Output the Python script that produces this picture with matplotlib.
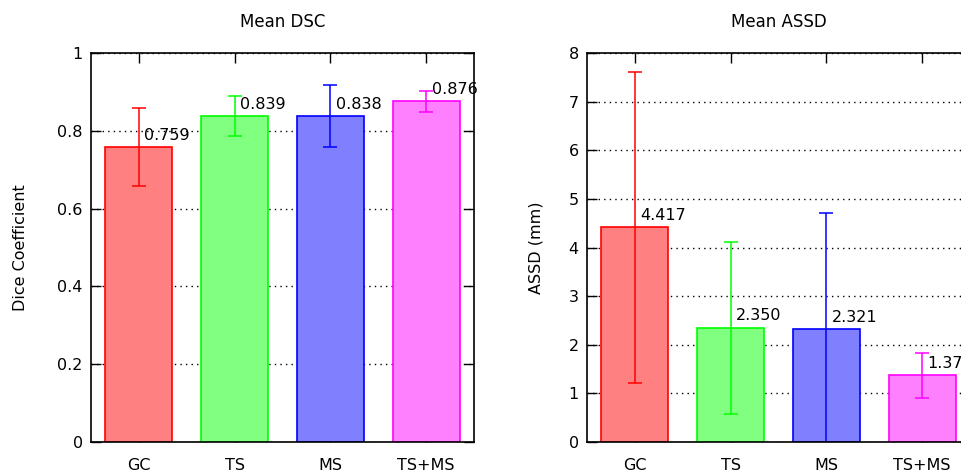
import matplotlib
matplotlib.use('Agg')
import matplotlib.pyplot as plt

# methods on the x axis
methods = ['GC', 'TS', 'MS', 'TS+MS']

# mean DSC and its spread
dsc_mean = [0.759, 0.839, 0.838, 0.876]
dsc_err = [0.101, 0.051, 0.080, 0.027]

# mean ASSD (mm) and its spread
assd_mean = [4.417, 2.350, 2.321, 1.370]
assd_err = [3.20, 1.77, 2.40, 0.46]

edge_colors = ['#ff0000', '#00ff00', '#0000ff', '#ff00ff']
fill_colors = ['#ff8080', '#80ff80', '#8080ff', '#ff80ff']

plt.rcParams['font.family'] = ['DejaVu Sans']
plt.rcParams['font.size'] = 11


def draw_panel(ax, values, errs, title, ylabel, ymax, yticks, lpad):
    x = list(range(len(methods)))
    ax.bar(x, values, width=0.7, color=fill_colors, edgecolor=edge_colors,
           linewidth=1.2, zorder=2)
    for i in x:
        ax.errorbar(i, values[i], yerr=errs[i], color=edge_colors[i],
                    capsize=5, elinewidth=1.1, capthick=1.1, zorder=3)
        # value label, right of the error bar; the last one runs off the page
        ax.annotate('%.3f' % values[i], (i, values[i]), xytext=(4, 3),
                    textcoords='offset points', ha='left', va='bottom',
                    fontsize=11.5, zorder=4, annotation_clip=False)
    ax.set_xlim(-0.5, len(methods) - 0.5)
    ax.set_ylim(0, ymax)
    ax.set_xticks(x)
    ax.set_xticklabels(methods, fontsize=11.5)
    ax.set_yticks(yticks)
    ax.set_yticklabels([('%g' % t) for t in yticks], fontsize=11.5)
    ax.tick_params(direction='in', length=7, width=1, top=True, right=True)
    ax.tick_params(axis='x', pad=12)
    ax.tick_params(axis='y', pad=6)
    ax.grid(axis='y', linestyle=(0, (1, 3)), color='black', linewidth=1, zorder=0)
    ax.set_axisbelow(True)
    for sp in ax.spines.values():
        sp.set_linewidth(1.2)
        sp.set_zorder(5)
    ax.set_title(title, fontsize=12, pad=19)
    ax.set_ylabel(ylabel, fontsize=11.5, labelpad=lpad)


fig = plt.figure(figsize=(9.61, 4.75), dpi=100)
ax1 = fig.add_axes([0.0947, 0.0699, 0.3985, 0.818])
ax2 = fig.add_axes([0.6108, 0.0699, 0.3985, 0.818])

draw_panel(ax1, dsc_mean, dsc_err, 'Mean DSC', 'Dice Coefficient', 1,
           [0, 0.2, 0.4, 0.6, 0.8, 1], 21)
draw_panel(ax2, assd_mean, assd_err, 'Mean ASSD', 'ASSD (mm)', 8,
           [0, 1, 2, 3, 4, 5, 6, 7, 8], 18)

fig.savefig('out.png', dpi=100)
